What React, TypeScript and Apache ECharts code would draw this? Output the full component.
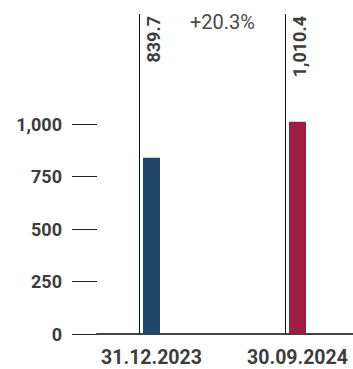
import React, { useEffect, useRef } from "react";
import * as echarts from "echarts";

const categories = ["31.12.2023", "30.09.2024"];
const values = [839.7, 1010.4];
const valueLabels = ["839.7", "1,010.4"];
const barColors = ["#1f4769", "#a11c45"];
const changeLabel = "+20.3%";

const FONT = "Roboto, 'Noto Sans', sans-serif";
const TEXT_COLOR = "#3d3d3d";

export default function App() {
  const ref = useRef<HTMLDivElement>(null);

  useEffect(() => {
    const chart = echarts.init(ref.current!, null, { renderer: "svg" });
    const barWidth = 17;

    chart.setOption({
      animation: false,
      grid: [
        // axis frame: y ticks and baseline
        { left: 97, right: 0, top: 124, bottom: 35, outerBoundsMode: "none" },
        // bar placement: category points sit on the grid edges
        { left: 151.5, right: 55.5, top: 71.5, bottom: 35, outerBoundsMode: "none" },
      ],
      xAxis: [
        {
          gridIndex: 0,
          type: "category",
          data: categories,
          axisLine: { lineStyle: { color: "#444", width: 2 } },
          axisTick: { show: false },
          axisLabel: { show: false },
        },
        {
          gridIndex: 1,
          type: "category",
          data: categories,
          boundaryGap: false,
          axisLine: { show: false },
          axisTick: { show: false },
          axisLabel: {
            margin: 13,
            fontFamily: FONT,
            fontWeight: "bold",
            fontSize: 19.5,
            color: TEXT_COLOR,
          },
        },
      ],
      yAxis: [
        {
          gridIndex: 0,
          type: "value",
          min: 0,
          max: 1000,
          interval: 250,
          splitLine: { show: false },
          axisLine: { show: false },
          axisTick: { show: true, length: 25, lineStyle: { color: "#222", width: 1 } },
          axisLabel: {
            margin: 35,
            fontFamily: FONT,
            fontWeight: "bold",
            fontSize: 18,
            color: TEXT_COLOR,
            formatter: (v: number) => v.toLocaleString("en-US"),
          },
        },
        { gridIndex: 1, type: "value", min: 0, max: 1250, show: false },
      ],
      graphic: [
        {
          type: "text",
          x: 222.5,
          y: 22,
          style: {
            text: changeLabel,
            align: "center",
            verticalAlign: "middle",
            textAlign: "center",
            textVerticalAlign: "middle",
            fontFamily: FONT,
            fontSize: 20,
            fill: "#4a4a4a",
          },
        },
      ],
      series: [
        {
          type: "bar",
          xAxisIndex: 1,
          yAxisIndex: 1,
          barWidth,
          data: values.map((v, i) => ({ value: v, itemStyle: { color: barColors[i] } })),
        },
        {
          type: "custom",
          xAxisIndex: 1,
          yAxisIndex: 1,
          data: values.map((v, i) => [i, v]),
          renderItem: (params: any, api: any) => {
            const idx = params.dataIndex;
            const base = api.coord([api.value(0), 0]);
            const cx = base[0];
            const lineX = Math.round(cx - barWidth / 2 - 4) + 0.5;
            return {
              type: "group",
              children: [
                {
                  type: "line",
                  shape: { x1: lineX, y1: 14, x2: lineX, y2: base[1] },
                  style: { stroke: "#111", lineWidth: 1 },
                },
                {
                  type: "text",
                  x: cx + 2,
                  y: 16,
                  rotation: Math.PI / 2,
                  style: {
                    text: valueLabels[idx],
                    align: "right",
                    verticalAlign: "middle",
                    textAlign: "right",
                    textVerticalAlign: "middle",
                    fontFamily: FONT,
                    fontWeight: "bold",
                    fontSize: 18,
                    fill: TEXT_COLOR,
                  },
                },
              ],
            };
          },
        },
      ],
    });

    return () => chart.dispose();
  }, []);

  return (
    <div
      ref={ref}
      style={{ position: "absolute", left: 0, top: 0, width: 353, height: 369 }}
    />
  );
}
